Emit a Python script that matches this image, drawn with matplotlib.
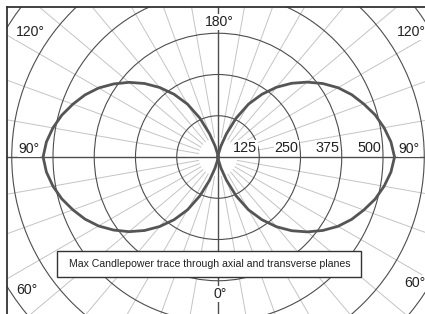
import numpy as np
import matplotlib
matplotlib.use("Agg")
import matplotlib.pyplot as plt
from matplotlib import font_manager
from matplotlib.patches import Circle, Rectangle

# DATA -----------------------------------------------
# angle from nadir (0 deg = straight down), candlepower
angles = np.arange(0, 181, 5)
cp_axial = [0, 3, 12, 35, 75, 130, 185, 232, 275, 315, 352, 386, 418, 445, 468,
            490, 508, 522, 530, 522, 508, 490, 468, 445, 418, 386, 352, 315,
            275, 232, 185, 130, 75, 35, 12, 3, 0]
cp_transverse = [0, 3, 12, 35, 75, 130, 185, 232, 276, 316, 353, 388, 420, 447,
                 470, 493, 511, 526, 535, 526, 511, 493, 470, 447, 420, 388, 353,
                 316, 276, 232, 185, 130, 75, 35, 12, 3, 0]
rings = [125, 250, 375, 500, 625, 750]
ring_labels = ["125", "250", "375", "500"]
spokes = np.arange(0, 360, 10)
title = "Max Candlepower trace through axial and transverse planes"

# FONT -----------------------------------------------
names = {f.name for f in font_manager.fontManager.ttflist}
if "Liberation Sans Narrow" in names:
    FONT, k = "Liberation Sans Narrow", 1.0
else:
    FONT, k = "Liberation Sans", 0.84
plt.rcParams["font.family"] = [FONT, "DejaVu Sans"]

W, H = 425, 314
fig = plt.figure(figsize=(W / 100, H / 100), dpi=100)
ax = fig.add_axes([7 / W, 0, (W - 7) / W, (H - 7) / H])

# pixel geometry of the reference: centre (218,157), 125 cd = 41.25 px
scale = 125 / 41.25
ax.set_xlim((7 - 218) * scale, (W - 218) * scale)
ax.set_ylim(-(H - 157) * scale, (157 - 7) * scale)

grid_dark = "#4d4d4d"
grid_light = "#c4c4c4"

# spokes every 10 deg
for a in spokes:
    if a % 90 == 0:
        continue
    t = np.radians(a)
    ax.plot([60 * np.sin(t), 1000 * np.sin(t)], [-60 * np.cos(t), -1000 * np.cos(t)],
            color=grid_light, lw=0.7, zorder=1)
ax.axhline(0, color=grid_dark, lw=1.0, zorder=2)
ax.axvline(0, color=grid_dark, lw=1.0, zorder=2)

for r in rings:
    ax.add_patch(Circle((0, 0), r, fill=False, edgecolor=grid_dark, lw=0.8, zorder=2))

# traces
th = np.radians(angles)
ax.plot(-np.array(cp_axial) * np.sin(th), -np.array(cp_axial) * np.cos(th),
        color="#555555", lw=2.0, solid_joinstyle="round", zorder=3)
ax.plot(np.array(cp_transverse) * np.sin(th), -np.array(cp_transverse) * np.cos(th),
        color="#555555", lw=2.0, solid_joinstyle="round", zorder=3)

# ring values
ring_fs = 10.4 if k < 1 else 12.5
for r, lab in zip(rings, ring_labels):
    ax.text(r - 6, 7, lab, ha="right", va="bottom", fontsize=ring_fs, color="#222222",
            bbox=dict(facecolor="white", edgecolor="none", pad=0.3), zorder=4)

# angle labels (figure pixel positions)
angle_labels = [("180°", 219, 22), ("120°", 30, 32), ("120°", 411, 32),
                ("90°", 29, 149), ("90°", 409, 149), ("60°", 27, 290),
                ("60°", 415, 283), ("0°", 220, 294)]
for lab, px, py in angle_labels:
    fig.text(px / W, 1 - py / H, lab, ha="center", va="center", fontsize=12 * k,
             color="#222222", zorder=5,
             bbox=dict(facecolor="white", edgecolor="none", pad=0.5))

# caption box
fig.patches.append(Rectangle((57 / W, 1 - 277 / H), (361 - 57) / W, 26 / H,
                             transform=fig.transFigure, facecolor="white",
                             edgecolor="#333333", lw=1.0, zorder=6))
fig.text(210 / W, 1 - 264 / H, title, ha="center", va="center", fontsize=9.0 * k,
         color="#222222", zorder=7)

ax.set_xticks([])
ax.set_yticks([])
for s in ["right", "bottom"]:
    ax.spines[s].set_visible(False)
for s in ["left", "top"]:
    ax.spines[s].set_color("#333333")
    ax.spines[s].set_linewidth(1.3)

fig.savefig("out.png", dpi=100)
